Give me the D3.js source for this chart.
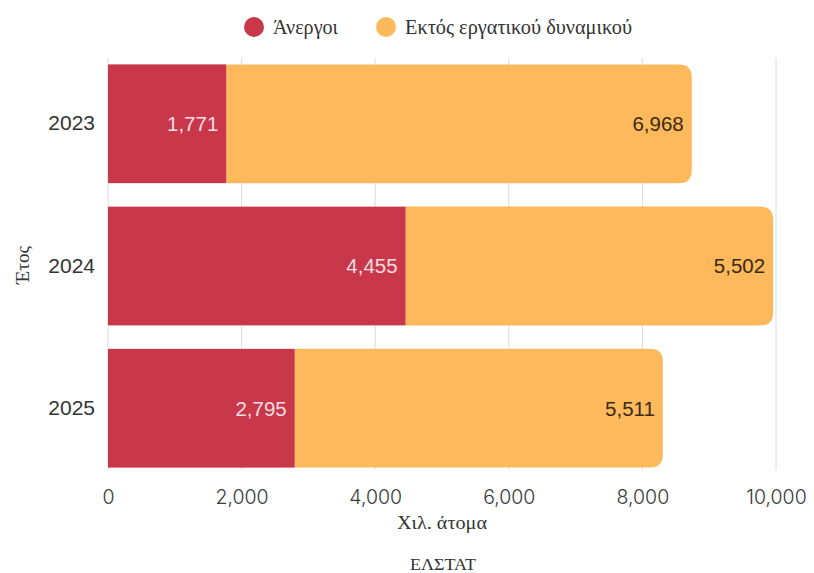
<!DOCTYPE html>
<html><head><meta charset="utf-8">
<script src="https://cdn.jsdelivr.net/npm/d3@7"></script>
<style>body{margin:0;background:#fff}svg{display:block}</style>
</head><body>
<svg id="c" width="814" height="573"></svg>
<script>
const years = ["2023","2024","2025"];
const unemployed = [1771, 4455, 2795];
const outsideLabour = [6968, 5502, 5511];
const seriesNames = ["Άνεργοι","Εκτός εργατικού δυναμικού"];
const xTicks = [0,2000,4000,6000,8000,10000];
const colors = ["#c9374a","#fdb95b"];

const svg = d3.select("#c");
const x = d3.scaleLinear().domain([0,10000]).range([108,776]);
const y = d3.scaleBand().domain(years).range([53,479]).paddingInner(0.165).paddingOuter(0.08);
const sans = "'Liberation Sans', Arial, sans-serif";
const tickFont = "Inter, 'Liberation Sans', sans-serif";
const serif = "'Liberation Serif', 'DejaVu Serif', serif";

// grid
svg.append("g").selectAll("line").data(xTicks).join("line")
  .attr("x1",d=>x(d)).attr("x2",d=>x(d)).attr("y1",58).attr("y2",470)
  .attr("stroke","#dcdcdc").attr("stroke-width",1);

const rows = years.map((yr,i)=>({yr, a:unemployed[i], b:outsideLabour[i]}));
const r = 13;
function rightRounded(x0,x1,y0,h){
  return `M${x0},${y0}H${x1-r}Q${x1},${y0} ${x1},${y0+r}V${y0+h-r}Q${x1},${y0+h} ${x1-r},${y0+h}H${x0}Z`;
}
const g = svg.append("g");
g.selectAll("path.o").data(rows).join("path").attr("class","o")
  .attr("d",d=>rightRounded(x(d.a),x(d.a+d.b),y(d.yr),y.bandwidth()))
  .attr("fill",colors[1]);
g.selectAll("rect.u").data(rows).join("rect").attr("class","u")
  .attr("x",x(0)).attr("y",d=>y(d.yr)).attr("width",d=>x(d.a)-x(0)).attr("height",y.bandwidth())
  .attr("fill",colors[0]);
const fmt = d3.format(",");
g.selectAll("text.ul").data(rows).join("text").attr("class","ul")
  .attr("x",d=>x(d.a)-8).attr("y",d=>y(d.yr)+y.bandwidth()/2).attr("dy","0.36em")
  .attr("text-anchor","end").attr("fill","#f2dfe2").attr("font-family",sans).attr("font-size",20.5)
  .text(d=>fmt(d.a));
g.selectAll("text.ol").data(rows).join("text").attr("class","ol")
  .attr("x",d=>x(d.a+d.b)-8).attr("y",d=>y(d.yr)+y.bandwidth()/2).attr("dy","0.36em")
  .attr("text-anchor","end").attr("fill","#3a2a14").attr("font-family",sans).attr("font-size",20.5)
  .text(d=>fmt(d.b));

// axes
const xa = svg.append("g").attr("transform","translate(0,478)")
  .call(d3.axisBottom(x).tickValues(xTicks).tickFormat(fmt).tickSize(0).tickPadding(12));
xa.select(".domain").remove();
xa.selectAll("text").attr("font-family",tickFont).attr("font-size",19.5).attr("font-weight",300).attr("fill","#3a3a3a");
const ya = svg.append("g").attr("transform","translate(108,0)")
  .call(d3.axisLeft(y).tickSize(0).tickPadding(13));
ya.select(".domain").remove();
ya.selectAll("text").attr("font-family",sans).attr("font-size",21).attr("fill","#333");

svg.append("text").attr("x",442).attr("y",529).attr("text-anchor","middle")
  .attr("font-family",serif).attr("font-size",19).attr("fill","#333")
  .attr("textLength",90).attr("lengthAdjust","spacingAndGlyphs").text("Χιλ. άτομα");
svg.append("text").attr("transform","translate(29,265) rotate(-90)").attr("text-anchor","middle")
  .attr("font-family",serif).attr("font-size",19).attr("fill","#333").text("Έτος");
svg.append("text").attr("x",443).attr("y",570).attr("text-anchor","middle")
  .attr("font-family",serif).attr("font-size",16).attr("fill","#333")
  .attr("textLength",66).attr("lengthAdjust","spacingAndGlyphs").text("ΕΛΣΤΑΤ");

// legend
const leg = svg.append("g");
const lx = [254, 386];
const lw = [65, 227];
seriesNames.forEach((n,i)=>{
  leg.append("circle").attr("cx",lx[i]).attr("cy",27).attr("r",10).attr("fill",colors[i]);
  leg.append("text").attr("x",lx[i]+19).attr("y",27).attr("dy","0.35em")
    .attr("font-family",serif).attr("font-size",20).attr("fill","#333")
    .attr("textLength",lw[i]).attr("lengthAdjust","spacingAndGlyphs").text(n);
});
</script>
</body></html>
